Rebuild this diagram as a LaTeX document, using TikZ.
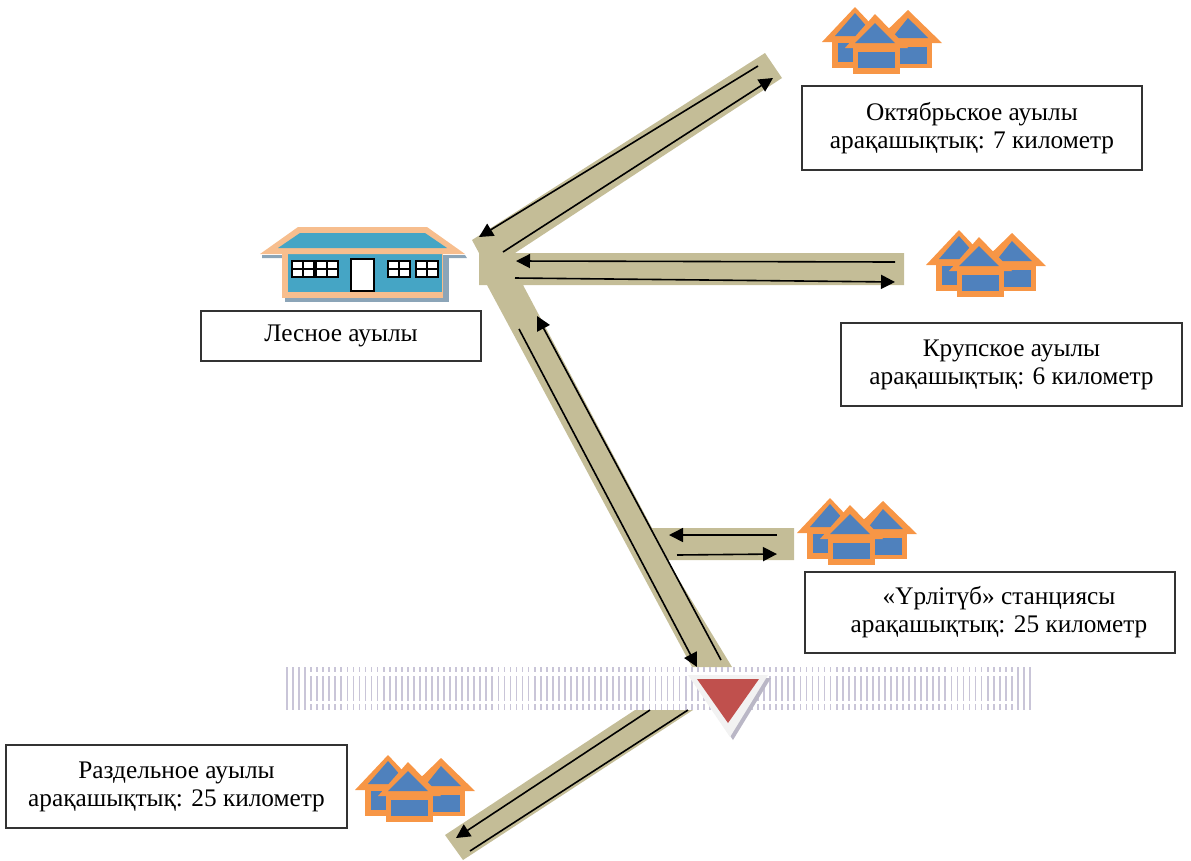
\documentclass[tikz,border=0pt]{standalone}
\usepackage{fontspec}
\setmainfont{Liberation Serif}
\usetikzlibrary{arrows.meta}
\definecolor{roadtan}{HTML}{C4BD97}
\definecolor{railgray}{HTML}{C9C5D8}
\definecolor{roofteal}{HTML}{45A5C5}
\definecolor{peach}{HTML}{F7BE8E}
\definecolor{shadeblue}{HTML}{8CA5B8}
\definecolor{hutorange}{HTML}{F79646}
\definecolor{hutblue}{HTML}{4F81BD}
\definecolor{signred}{HTML}{C0504D}
\tikzset{
    road/.style={fill=roadtan, draw=none},
    way/.style={line width=0.032cm, black},
    wayarrow/.style={way, -{Triangle[length=0.28cm,width=0.28cm]}},
    infobox/.style={draw=black!80, line width=0.03cm, fill=white, align=center, inner sep=0pt,
        font=\fontsize{14.4}{15.9}\selectfont},
    sleeper/.style={railgray, line width=0.035cm},
    window/.style={fill=white, draw=black, line width=0.03cm},
    village/.pic={
        % right hut
        \fill[hutorange] (60,36) rectangle (110,61);
        \fill[hutblue] (78,40) rectangle (105,57);
        \fill[hutorange] (52,36) -- (86,3) -- (120,36) -- cycle;
        \fill[hutblue] (70,31) -- (86,11) -- (106,31) -- cycle;
        % left hut
        \fill[hutorange] (10,35) rectangle (50,61);
        \fill[hutblue] (16,36) rectangle (40,55);
        \fill[hutorange] (0,35) -- (33,0) -- (66,35) -- cycle;
        \fill[hutblue] (13,29) -- (33,6) -- (53,29) -- cycle;
        % middle hut
        \fill[hutorange] (31,41) rectangle (78,67);
        \fill[hutblue] (36,45) rectangle (73,61);
        \fill[hutorange] (23,41) -- (53,7) -- (86,41) -- cycle;
        \fill[hutblue] (33,36) -- (53,16) -- (73,36) -- cycle;
    }
}
\begin{document}
\begin{tikzpicture}[x=0.02cm,y=-0.02cm]
    \useasboundingbox (0,0) rectangle (1191,860);

    % roads
    \fill[road] (472,240) -- (765,53) -- (782,78) -- (515,253) -- (904,253) -- (904,285) -- (523,285)
        -- (652,528) -- (794,528) -- (794,560) -- (667,560) -- (732,667) -- (692,667)
        -- (487,285) -- (479,285) -- (479,253) -- cycle;
    \fill[road] (635,710) -- (693,710) -- (463,860) -- (445,835) -- cycle;

    % rail
    \foreach \i in {0,...,123} {
        \draw[sleeper] (287+6.04*\i,667) -- (287+6.04*\i,672);
        \draw[sleeper] (287+6.04*\i,676) -- (287+6.04*\i,701);
        \draw[sleeper] (287+6.04*\i,704) -- (287+6.04*\i,710);
    }
    \foreach \i in {0,1,2,3,121,122,123}
        \draw[sleeper] (287+6.04*\i,667) -- (287+6.04*\i,710);

    % station sign
    \fill[railgray!80!gray] (691,678) -- (771,678) -- (733,740) -- cycle;
    \fill[black!5] (688,675) -- (768,675) -- (730,737) -- cycle;
    \fill[signred] (697,679) -- (759,679) -- (728,723) -- cycle;

    % arrow ends
    \coordinate (octA) at (758,66);
    \coordinate (octB) at (479,237);
    \coordinate (octC) at (503,252);
    \coordinate (octD) at (773,78);
    \coordinate (krupA) at (895,262);
    \coordinate (krupB) at (516,261);
    \coordinate (krupC) at (515,278);
    \coordinate (krupD) at (895,282);
    \coordinate (mainA) at (721,660);
    \coordinate (mainB) at (537,316);
    \coordinate (mainC) at (519,329);
    \coordinate (mainD) at (697,667);
    \coordinate (statA) at (777,535);
    \coordinate (statB) at (669,535);
    \coordinate (statC) at (677,555);
    \coordinate (statD) at (777,554);
    \coordinate (razdA) at (650,710);
    \coordinate (razdB) at (456,838);
    \coordinate (razdC) at (688,710);
    \coordinate (razdD) at (470,851);

    \draw[wayarrow] (octA) -- (octB);
    \draw[wayarrow] (octC) -- (octD);
    \draw[wayarrow] (krupA) -- (krupB);
    \draw[wayarrow] (krupC) -- (krupD);
    \draw[wayarrow] (mainA) -- (mainB);
    \draw[wayarrow] (mainC) -- (mainD);
    \draw[wayarrow] (statA) -- (statB);
    \draw[wayarrow] (statC) -- (statD);
    \draw[wayarrow] (razdA) -- (razdB);
    \draw[way] (razdC) -- (razdD);

    % Lesnoe building
    \fill[shadeblue] (262,255) -- (465,255) -- (467,258) -- (262,258) -- cycle;
    \fill[shadeblue] (285,258) rectangle (449,302);
    \fill[peach] (282,254) rectangle (443,298);
    \fill[roofteal] (288,254) rectangle (442,292);
    \fill[peach] (260,254) -- (298,227) -- (427,227) -- (465,254) -- cycle;
    \fill[roofteal] (278,248) -- (300,233) -- (425,233) -- (447,248) -- cycle;
    \foreach \wx in {292,316,388,416} {
        \draw[window] (\wx,261) rectangle (\wx+22,277);
        \draw[black, line width=0.03cm] (\wx+11,261) -- (\wx+11,277) (\wx,269) -- (\wx+22,269);
    }
    \draw[window] (351,259) rectangle (374,291);

    % villages
    \pic at (822,7) {village};
    \pic at (926,230) {village};
    \pic at (797,498) {village};
    \pic at (355,755) {village};

    % labels
    \node[infobox, minimum width=5.6cm, minimum height=1cm] (lesnoe) at (341,336) {Лесное ауылы};
    \node[infobox, minimum width=6.8cm, minimum height=1.68cm] (oktyabr) at (972,128)
        {Октябрьское ауылы\\арақашықтық: 7 километр};
    \node[infobox, minimum width=6.82cm, minimum height=1.66cm] (krup) at (1011.5,364.5)
        {Крупское ауылы\\арақашықтық: 6 километр};
    \node[infobox, minimum width=7.4cm, minimum height=1.62cm] (urlitub) at (990,612.5)
        {\hspace*{0.36cm}«Үрлітүб» станциясы\\\hspace*{0.36cm}арақашықтық: 25 километр};
    \node[infobox, minimum width=6.82cm, minimum height=1.66cm] (razdel) at (176.5,786.5)
        {Раздельное ауылы\\арақашықтық: 25 километр};
\end{tikzpicture}
\end{document}
